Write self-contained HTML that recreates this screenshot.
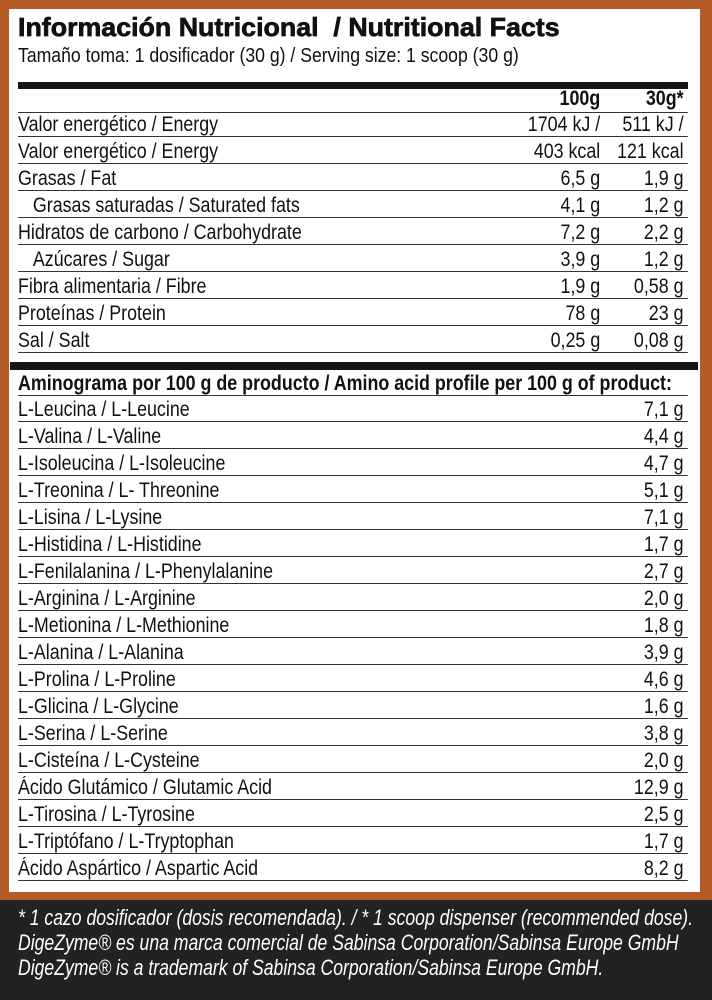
<!DOCTYPE html>
<html><head><meta charset="utf-8"><style>
body{margin:0;width:712px;height:1000px;background:#222;position:relative;overflow:hidden;font-family:"Liberation Sans",sans-serif;color:#111}
#o{position:absolute;left:0;top:0;width:712px;height:900px;background:#b65a26}
#w{position:absolute;left:9px;top:9px;width:691px;height:883px;background:#fff}
.t{position:absolute;left:18px;top:12px;font-weight:900;font-size:26px;-webkit-text-stroke:0.7px #111;white-space:nowrap;transform:scaleX(1.03);transform-origin:0 0}
.s{position:absolute;left:18px;top:44px;font-size:20.5px;white-space:nowrap;transform:scaleX(0.86);transform-origin:0 0}
.bar{position:absolute;left:18px;width:670px;height:7px;background:#161616}
.r{position:absolute;left:18px;width:788px;height:26px;border-bottom:1.5px solid #333;font-size:21px;line-height:30px;white-space:nowrap;transform:scaleX(0.85);transform-origin:0 0}
.r .a{position:absolute;right:103px;top:0}
.r .b{position:absolute;right:5px;top:0}
.r .v{position:absolute;right:5px;top:0}
.h{font-weight:bold}
.f{position:absolute;left:18px;top:905px;color:#fff;font-style:italic;font-size:22px;line-height:25px;white-space:nowrap;transform:scaleX(0.8);transform-origin:0 0}
</style></head><body>
<div id="o"></div><div id="w"></div>
<div class="t">Información Nutricional&nbsp; / Nutritional Facts</div>
<div class="s">Tamaño toma: 1 dosificador (30 g) / Serving size: 1 scoop (30 g)</div>
<div class="bar" style="top:82px"></div>
<div class="r h" style="top:86px;height:26px;line-height:26px"><span class="a">100g</span><span class="b">30g*</span></div>
<div class="r" style="top:110px">Valor energético / Energy<span class="a">1704 kJ /</span><span class="b">511 kJ /</span></div>
<div class="r" style="top:137px">Valor energético / Energy<span class="a">403 kcal</span><span class="b">121 kcal</span></div>
<div class="r" style="top:164px">Grasas / Fat<span class="a">6,5 g</span><span class="b">1,9 g</span></div>
<div class="r" style="top:191px">&nbsp;&nbsp;&nbsp;Grasas saturadas / Saturated fats<span class="a">4,1 g</span><span class="b">1,2 g</span></div>
<div class="r" style="top:218px">Hidratos de carbono / Carbohydrate<span class="a">7,2 g</span><span class="b">2,2 g</span></div>
<div class="r" style="top:245px">&nbsp;&nbsp;&nbsp;Azúcares / Sugar<span class="a">3,9 g</span><span class="b">1,2 g</span></div>
<div class="r" style="top:272px">Fibra alimentaria / Fibre<span class="a">1,9 g</span><span class="b">0,58 g</span></div>
<div class="r" style="top:299px">Proteínas / Protein<span class="a">78 g</span><span class="b">23 g</span></div>
<div class="r" style="top:326px">Sal / Salt<span class="a">0,25 g</span><span class="b">0,08 g</span></div>
<div class="bar" style="top:362px;left:10px;width:688px;height:8px"></div>
<div class="r h" style="top:369px">Aminograma por 100 g de producto / Amino acid profile per 100 g of product:</div>
<div class="r" style="top:395px">L-Leucina / L-Leucine<span class="v">7,1 g</span></div>
<div class="r" style="top:422px">L-Valina / L-Valine<span class="v">4,4 g</span></div>
<div class="r" style="top:449px">L-Isoleucina / L-Isoleucine<span class="v">4,7 g</span></div>
<div class="r" style="top:476px">L-Treonina / L- Threonine<span class="v">5,1 g</span></div>
<div class="r" style="top:503px">L-Lisina / L-Lysine<span class="v">7,1 g</span></div>
<div class="r" style="top:530px">L-Histidina / L-Histidine<span class="v">1,7 g</span></div>
<div class="r" style="top:557px">L-Fenilalanina / L-Phenylalanine<span class="v">2,7 g</span></div>
<div class="r" style="top:584px">L-Arginina / L-Arginine<span class="v">2,0 g</span></div>
<div class="r" style="top:611px">L-Metionina / L-Methionine<span class="v">1,8 g</span></div>
<div class="r" style="top:638px">L-Alanina / L-Alanina<span class="v">3,9 g</span></div>
<div class="r" style="top:665px">L-Prolina / L-Proline<span class="v">4,6 g</span></div>
<div class="r" style="top:692px">L-Glicina / L-Glycine<span class="v">1,6 g</span></div>
<div class="r" style="top:719px">L-Serina / L-Serine<span class="v">3,8 g</span></div>
<div class="r" style="top:746px">L-Cisteína / L-Cysteine<span class="v">2,0 g</span></div>
<div class="r" style="top:773px">Ácido Glutámico / Glutamic Acid<span class="v">12,9 g</span></div>
<div class="r" style="top:800px">L-Tirosina / L-Tyrosine<span class="v">2,5 g</span></div>
<div class="r" style="top:827px">L-Triptófano / L-Tryptophan<span class="v">1,7 g</span></div>
<div class="r" style="top:854px">Ácido Aspártico / Aspartic Acid<span class="v">8,2 g</span></div>
<div class="f">* 1 cazo dosificador (dosis recomendada). / * 1 scoop dispenser (recommended dose).<br>DigeZyme® es una marca comercial de Sabinsa Corporation/Sabinsa Europe GmbH<br>DigeZyme® is a trademark of Sabinsa Corporation/Sabinsa Europe GmbH.</div>
</body></html>
